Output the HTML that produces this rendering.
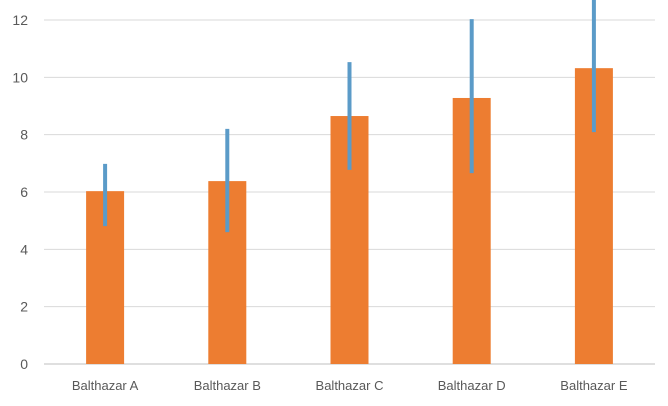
<!DOCTYPE html>
<html><head><meta charset="utf-8"><style>
body{margin:0;background:#fff;}
svg{display:block;font-family:"Liberation Sans",sans-serif;}
</style></head><body>
<svg id="chart" width="668" height="406"></svg>
<script>
const categories=["Balthazar A","Balthazar B","Balthazar C","Balthazar D","Balthazar E"];
const values=[6.03,6.38,8.65,9.28,10.32];
const errHigh=[6.98,8.2,10.53,12.03,12.75];
const errLow=[4.81,4.6,6.77,6.66,8.09];
const ticks=[0,2,4,6,8,10,12];
const NS="http://www.w3.org/2000/svg";
const svg=document.getElementById('chart');
const x0=44,x1=655,y0=364,yTop=20,maxV=12;
const y=v=>y0-(v/maxV)*(y0-yTop);
const band=(x1-x0)/categories.length;
const xc=i=>x0+band*(i+0.5);
function mk(t,a){const e=document.createElementNS(NS,t);for(const k in a)e.setAttribute(k,a[k]);svg.appendChild(e);return e;}
ticks.forEach(t=>{
 const g=mk('line',{x1:x0,x2:x1,y1:y(t),y2:y(t),stroke:t===0?'#bfbfbf':'#d9d9d9','stroke-width':1});
 
 
 const l=mk('text',{x:28,y:y(t)+5,'text-anchor':'end','font-size':14,fill:'#595959'});
 l.textContent=t;
 
 
});
categories.forEach((c,i)=>{
 const b=mk('rect',{x:xc(i)-19,y:y(values[i]),width:38,height:y0-y(values[i]),fill:'#ed7d31'});
 
 
 const e=mk('line',{x1:xc(i),x2:xc(i),y1:y(errHigh[i]),y2:y(errLow[i]),stroke:'#5b9bc8','stroke-width':4});
 
 
 const t=mk('text',{x:xc(i),y:390,'text-anchor':'middle','font-size':13,fill:'#595959'});
 t.textContent=c;
 
 
});
</script>
</body></html>
